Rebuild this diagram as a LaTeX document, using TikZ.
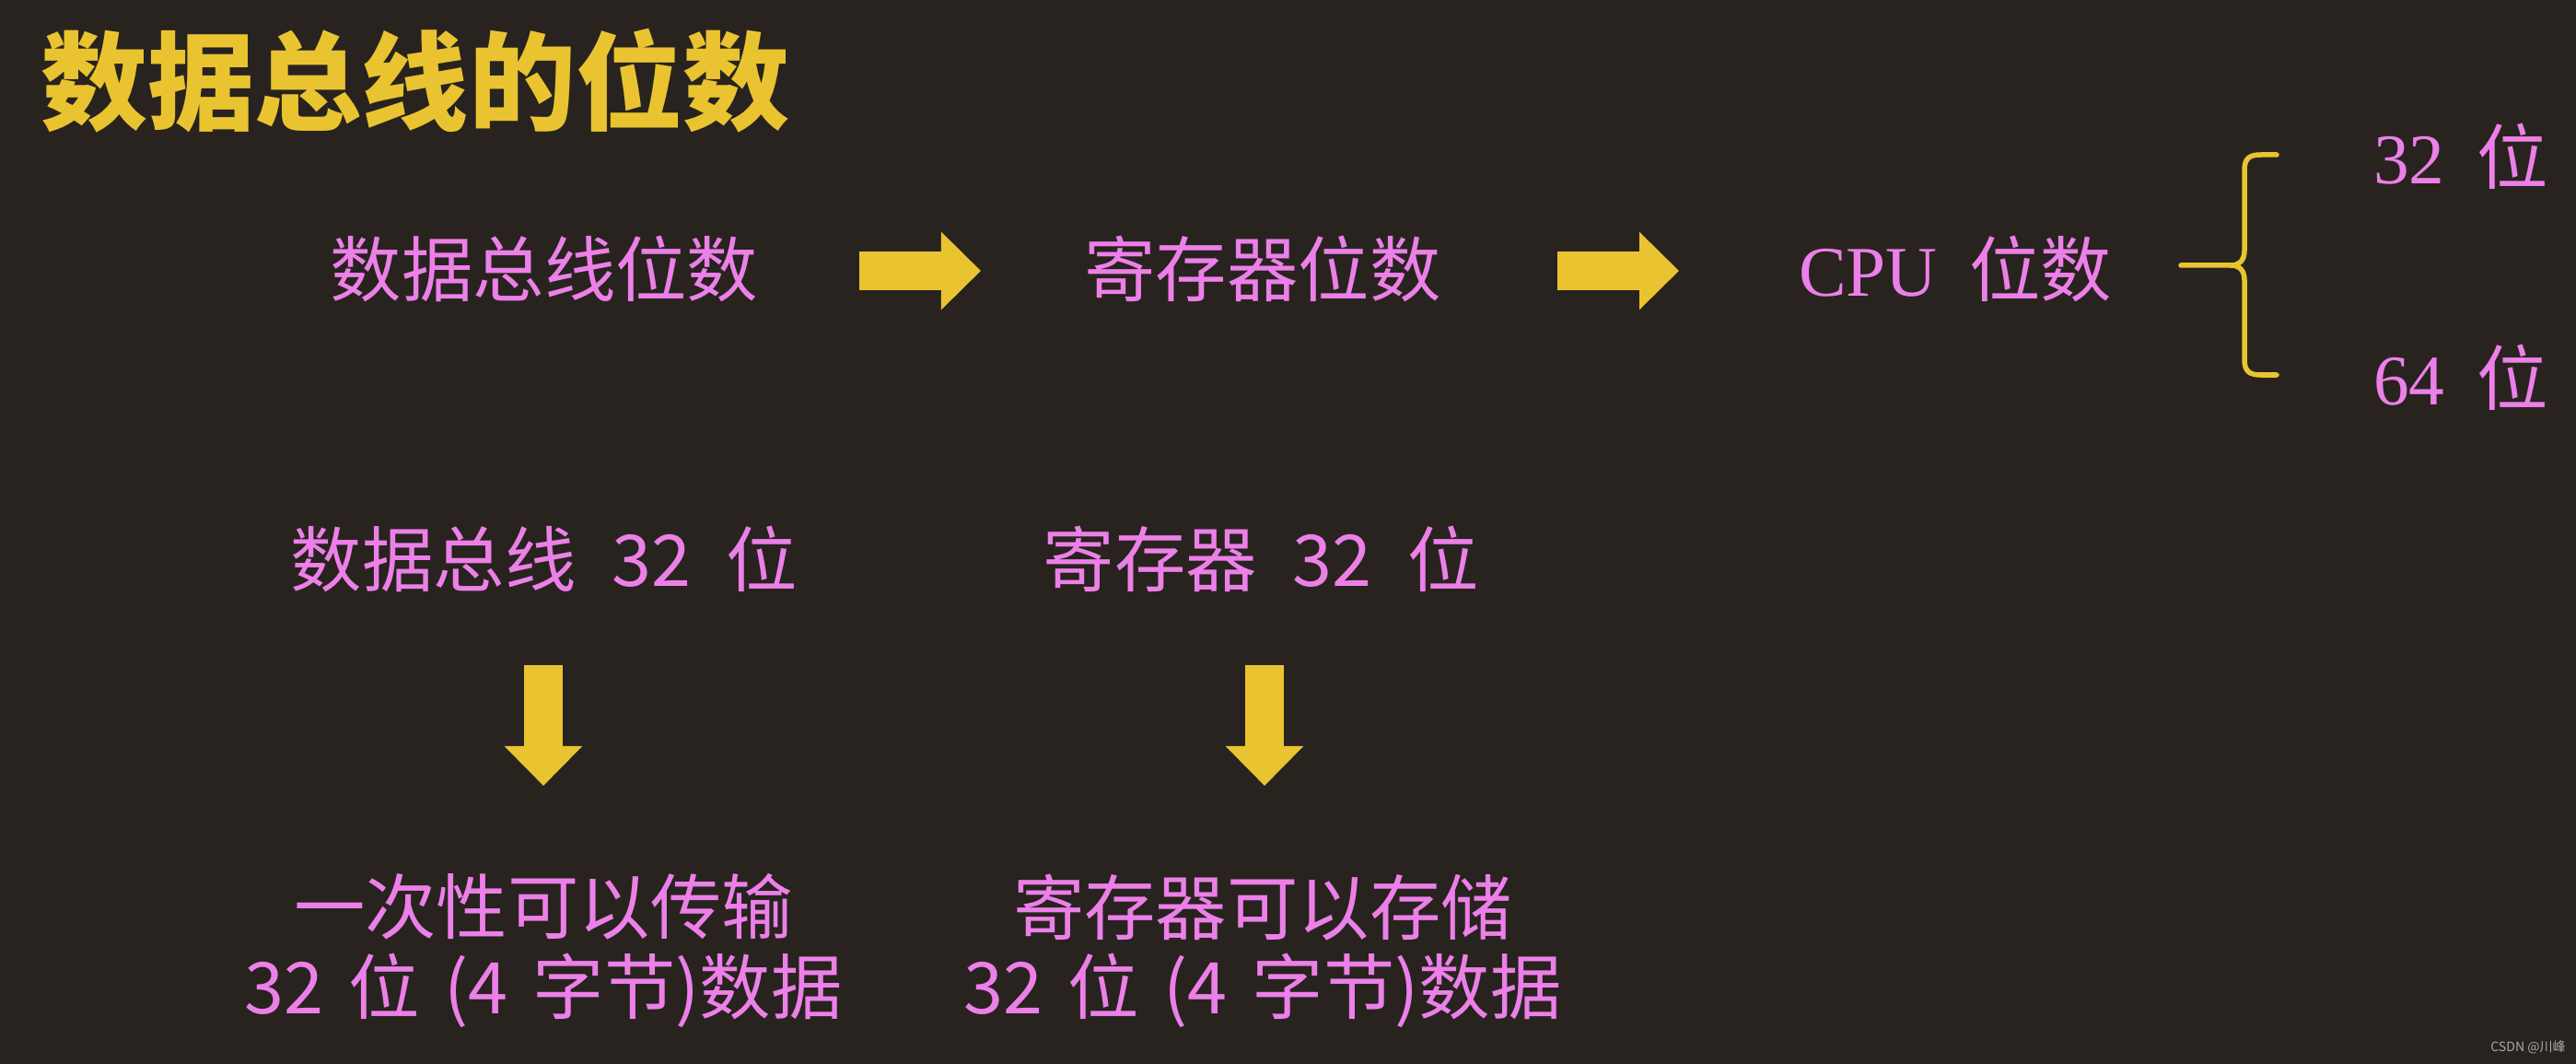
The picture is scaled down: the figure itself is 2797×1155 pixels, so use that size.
\documentclass[tikz,border=0pt]{standalone}
\usepackage{fontspec}
\setmainfont{Liberation Serif}
\newfontfamily\cjk{Noto Sans CJK SC}
\usetikzlibrary{arrows.meta, positioning}
\definecolor{mybg}{RGB}{40,35,31}
\definecolor{mypink}{RGB}{236,128,232}
\definecolor{myyellow}{RGB}{234,196,48}
\definecolor{mygray}{RGB}{170,170,170}
\newcommand{\zh}[1]{{\cjk #1}}
\tikzset{
  heading/.style={text=myyellow, inner sep=0pt,
    font=\cjk\bfseries\fontsize{33pt}{36pt}\selectfont},
  term/.style={text=mypink, inner sep=0pt, align=center,
    font=\fontsize{22pt}{24pt}\selectfont},
  zhterm/.style={term, font=\cjk\fontsize{22pt}{24pt}\selectfont},
  bigarrow/.style={line width=0.42cm, color=myyellow,
    -{Triangle[length=0.43cm, width=0.82cm]}},
  brace/.style={line width=0.055cm, color=myyellow, line cap=round}
}
\begin{document}
\begin{tikzpicture}[x=0.01cm, y=-0.01cm]
  % Background
  \fill[mybg] (0,0) rectangle (2797,1155);
  \useasboundingbox (0,0) rectangle (2797,1155);

  % Title
  \node[heading] (title) at (451,88) {数据总线的位数};

  % Top row
  \node[zhterm] (busbits) at (591,292) {数据总线位数};
  \node[zhterm] (regbits) at (1371,292) {寄存器位数};
  \node[term] (cpubits) at (2123,292) {CPU\hspace{0.45em}\zh{位数}};
  \node[term] (bit32) at (2672,170) {32\hspace{0.45em}\zh{位}};
  \node[term] (bit64) at (2672,410) {64\hspace{0.45em}\zh{位}};

  % Arrow ends
  \coordinate (a1s) at (933,294);
  \coordinate (a1e) at (1065,294);
  \coordinate (a2s) at (1691,294);
  \coordinate (a2e) at (1823,294);

  \draw[bigarrow] (a1s) -- (a1e);
  \draw[bigarrow] (a2s) -- (a2e);

  % Brace
  \coordinate (bl) at (2368,288);
  \draw[brace] (bl) -- (2422,288)
    .. controls (2432,288) and (2437,282) .. (2437,272) -- (2437,185)
    .. controls (2437,172) and (2442,168) .. (2455,168) -- (2472,168);
  \draw[brace] (2422,288)
    .. controls (2432,288) and (2437,294) .. (2437,304) -- (2437,390)
    .. controls (2437,403) and (2442,407) .. (2455,407) -- (2472,407);

  % Middle row
  \node[zhterm] (bus32) at (591,607) {数据总线\hspace{0.5em}32\hspace{0.5em}位};
  \node[zhterm] (reg32) at (1369,607) {寄存器\hspace{0.5em}32\hspace{0.5em}位};

  \coordinate (d1s) at (590,722);
  \coordinate (d1e) at (590,853);
  \coordinate (d2s) at (1373,722);
  \coordinate (d2e) at (1373,853);

  \draw[bigarrow] (d1s) -- (d1e);
  \draw[bigarrow] (d2s) -- (d2e);

  % Bottom notes
  \node[zhterm, font=\cjk\fontsize{22pt}{24.5pt}\selectfont] (busnote) at (590,1032)
    {一次性可以传输\\32\hspace{0.35em}位\hspace{0.35em}(4\hspace{0.35em}字节)数据};
  \node[zhterm, font=\cjk\fontsize{22pt}{24.5pt}\selectfont] (regnote) at (1371,1032)
    {寄存器可以存储\\32\hspace{0.35em}位\hspace{0.35em}(4\hspace{0.35em}字节)数据};

  % Watermark
  \node[text=mygray, inner sep=0pt, font=\cjk\fontsize{4pt}{5pt}\selectfont]
    (mark) at (2745,1137) {CSDN @川峰};
\end{tikzpicture}
\end{document}
